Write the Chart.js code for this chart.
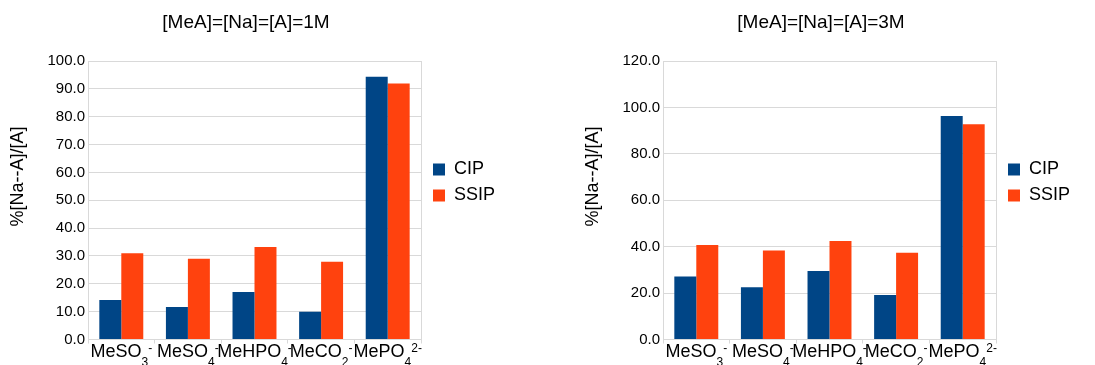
<!DOCTYPE html>
<html>
<head>
<meta charset="utf-8">
<script src="https://cdn.jsdelivr.net/npm/chart.js@4.4.1/dist/chart.umd.min.js"></script>
<style>
    body { margin: 0; background: #fff; }
    #wrap { position: relative; width: 1095px; height: 365px; }
    canvas { position: absolute; top: 0; }
    #chart1M { left: 0; }
    #chart3M { left: 575px; }
</style>
</head>
<body>
<div id="wrap">
    <canvas id="chart1M" width="496" height="365"></canvas>
    <canvas id="chart3M" width="496" height="365"></canvas>
</div>
<script>
// Category labels (base name + subscript + superscript)
const anions = ['MeSO', 'MeSO', 'MeHPO', 'MeCO', 'MePO'];
const anionSub = ['3', '4', '4', '2', '4'];
const anionSup = ['-', '-', '-', '-', '2-'];
const categories = anions.map((a, i) => a + anionSub[i] + anionSup[i]);

// %[Na--A]/[A] values
const cip1M = [14.2, 11.7, 17.1, 10.0, 94.3];
const ssip1M = [31.0, 29.0, 33.2, 27.9, 91.9];
const cip3M = [27.1, 22.5, 29.5, 19.2, 96.3];
const ssip3M = [40.7, 38.4, 42.4, 37.4, 92.8];

const yTitle = '%[Na--A]/[A]';
const FONT = '"Liberation Sans", Arial, sans-serif';
const GRID = '#d9d9d9';

// draws the chemical formula tick labels and the y axis title
const labelPlugin = {
    id: 'chemLabels',
    afterLayout(chart) {
        // nudge legend a little away from the plot, keep title centred as before
        chart.legend.left += 4;
        chart.titleBlock.right -= 4;
    },
    afterDraw(chart) {
        const ctx = chart.ctx;
        const xs = chart.scales.x;
        ctx.save();
        ctx.fillStyle = '#000';
        ctx.textAlign = 'left';
        ctx.textBaseline = 'alphabetic';
        anions.forEach((base, i) => {
            ctx.font = '18px ' + FONT;
            const wb = ctx.measureText(base).width;
            ctx.font = '12px ' + FONT;
            const ws = ctx.measureText(anionSub[i]).width;
            const wp = ctx.measureText(anionSup[i]).width;
            let x = xs.getPixelForTick(i) - (wb + ws + wp) / 2;
            const y = xs.top + 17.5;
            ctx.font = '18px ' + FONT;
            ctx.fillText(base, x, y);
            x += wb;
            ctx.font = '12px ' + FONT;
            ctx.fillText(anionSub[i], x, y + 9);
            x += ws;
            ctx.fillText(anionSup[i], x, y - 5);
        });

        const ys = chart.scales.y;
        ctx.font = '18px ' + FONT;
        ctx.textAlign = 'center';
        ctx.textBaseline = 'middle';
        ctx.translate(ys.left + 18.5, chart.height / 2 - 6);
        ctx.rotate(-Math.PI / 2);
        ctx.fillText(yTitle, 0, 0);
        ctx.restore();
    }
};

function makeChart(id, title, cip, ssip, yMax, yStep) {
    return new Chart(document.getElementById(id), {
        type: 'bar',
        data: {
            labels: categories,
            datasets: [{
                label: 'CIP',
                data: cip,
                backgroundColor: '#004586',
                categoryPercentage: 0.66,
                barPercentage: 1
            }, {
                label: 'SSIP',
                data: ssip,
                backgroundColor: '#ff420e',
                categoryPercentage: 0.66,
                barPercentage: 1
            }]
        },
        options: {
            responsive: false,
            animation: false,
            devicePixelRatio: 1,
            layout: { padding: 0 },
            plugins: {
                title: {
                    display: true,
                    text: title,
                    color: '#000',
                    font: { size: 19, family: FONT, weight: 'normal' },
                    padding: { top: 11, bottom: 27.2 }
                },
                legend: {
                    position: 'right',
                    maxWidth: 75,
                    labels: {
                        boxWidth: 12,
                        boxHeight: 12,
                        padding: 8,
                        color: '#000',
                        font: { size: 18, family: FONT }
                    }
                },
                tooltip: { enabled: false }
            },
            scales: {
                x: {
                    grid: {
                        offset: true,
                        // only the plot-area edges, plus small ticks below the axis
                        color: c => (c.index === 0 || c.index === undefined) ? GRID : 'transparent',
                        tickColor: GRID,
                        tickLength: 4
                    },
                    border: { color: GRID },
                    ticks: { display: false },
                    afterFit: s => { s.height = 25.5; }
                },
                y: {
                    min: 0,
                    max: yMax,
                    ticks: {
                        stepSize: yStep,
                        padding: 3,
                        color: '#000',
                        font: { size: 15, family: FONT },
                        callback: v => v.toFixed(1)
                    },
                    grid: { color: GRID, drawTicks: false },
                    border: { color: GRID },
                    afterFit: s => { s.width = 88; }
                }
            }
        },
        plugins: [labelPlugin]
    });
}

makeChart('chart1M', '[MeA]=[Na]=[A]=1M', cip1M, ssip1M, 100, 10);
makeChart('chart3M', '[MeA]=[Na]=[A]=3M', cip3M, ssip3M, 120, 20);
</script>
</body>
</html>
